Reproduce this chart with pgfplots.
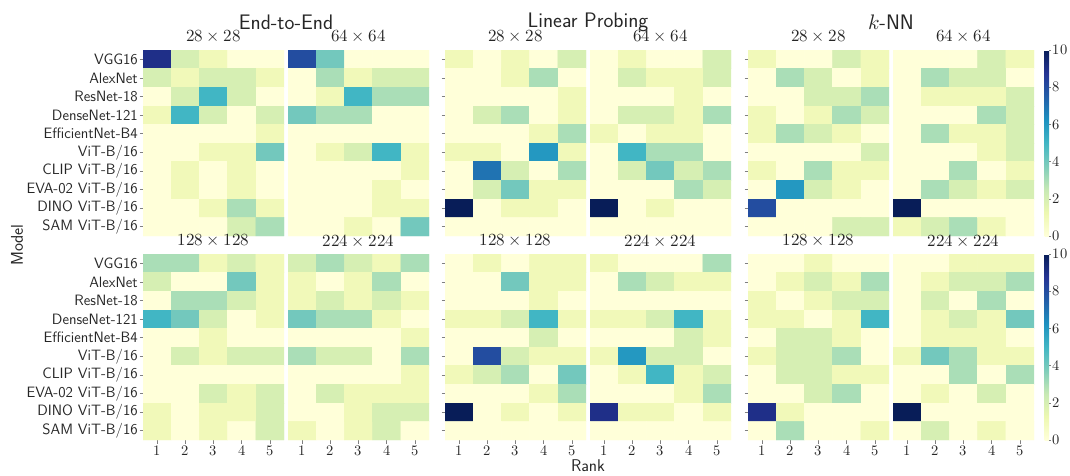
\documentclass[border=0pt]{standalone}
\usepackage{fontspec}
\usepackage{unicode-math}
\setmathfont{Latin Modern Math}
\usepackage{pgfplots}
\pgfplotsset{compat=1.18}
\definecolor{txt}{gray}{0.15}
\pgfplotsset{
 hm/.style={
  anchor=north west, scale only axis, width=141pt, height=186pt,
  xmin=0.5, xmax=5.5, ymin=-0.5, ymax=9.5, y dir=reverse,
  axis line style={draw=none},
  colormap={ylgnbu}{rgb255=(255,255,217) rgb255=(237,248,177) rgb255=(199,233,180) rgb255=(127,205,187) rgb255=(65,182,196) rgb255=(29,145,192) rgb255=(34,94,168) rgb255=(37,52,148) rgb255=(8,29,88)},
  point meta min=0, point meta max=10,
  xtick=\empty, ytick=\empty,
  tick style={draw=black!50, line width=0.6pt},
  tick align=outside, major tick length=3.5pt,
  title style={at={(0.5,1)}, anchor=south, yshift=0pt, inner sep=1.5pt, font=\fontsize{17}{19}\selectfont, text=txt},
  ticklabel style={font=\fontsize{14.5}{16}\selectfont, text=txt},
 },
 ylab/.style={ytick={0,...,9}, ytick pos=left,
  yticklabels={VGG16,AlexNet,ResNet-18,DenseNet-121,EfficientNet-B4,ViT-B/16,CLIP ViT-B/16,EVA-02 ViT-B/16,DINO ViT-B/16,SAM ViT-B/16},
  yticklabel style={font=\sffamily\fontsize{15}{17}\selectfont, text=txt, inner sep=1.5pt}},
 ytk/.style={ytick={0,...,9}, ytick pos=left, yticklabel={\phantom{0}}},
 xlab/.style={xtick={1,...,5}, xtick pos=bottom, xticklabel style={inner sep=2pt}},
 cbar/.style={colorbar, colorbar style={at={(parent axis.north east)}, anchor=north west, xshift=2pt,
  width=4.5pt, height=186pt, scale only axis, ymin=0, ymax=10, ytick={0,2,...,10}, ytick pos=right, yticklabel pos=right,
  axis line style={draw=none}, tick style={draw=black!50, line width=0.6pt}, tick align=outside, major tick length=2pt,
  yticklabel style={font=\fontsize{14.5}{16}\selectfont, text=txt, inner sep=1.5pt}}},
 hp/.style={matrix plot*, mesh/cols=5, point meta=explicit},
}
\begin{document}
\begin{tikzpicture}
\path[use as bounding box] (0,0) rectangle (1070pt,-476pt);
% ===== Top row =====
\begin{axis}[hm, ylab, at={(143pt,-50pt)}, title={$28\times 28$}]
\addplot[hp] coordinates {
(1,0)[9] (2,0)[2] (3,0)[1] (4,0)[0] (5,0)[0]
(1,1)[2] (2,1)[1] (3,1)[2] (4,1)[2] (5,1)[1]
(1,2)[0] (2,2)[2] (3,2)[5] (4,2)[2] (5,2)[0]
(1,3)[1] (2,3)[5] (3,3)[2] (4,3)[0] (5,3)[2]
(1,4)[0] (2,4)[0] (3,4)[0] (4,4)[0] (5,4)[1]
(1,5)[0] (2,5)[0] (3,5)[1] (4,5)[1] (5,5)[4]
(1,6)[0] (2,6)[1] (3,6)[0] (4,6)[1] (5,6)[0]
(1,7)[0] (2,7)[1] (3,7)[0] (4,7)[1] (5,7)[0]
(1,8)[0] (2,8)[0] (3,8)[1] (4,8)[3] (5,8)[1]
(1,9)[0] (2,9)[0] (3,9)[0] (4,9)[2] (5,9)[3]
};
\end{axis}
\begin{axis}[hm, at={(288pt,-50pt)}, title={$64\times 64$}]
\addplot[hp] coordinates {
(1,0)[8] (2,0)[4] (3,0)[0] (4,0)[0] (5,0)[0]
(1,1)[0] (2,1)[3] (3,1)[1] (4,1)[2] (5,1)[2]
(1,2)[0] (2,2)[1] (3,2)[5] (4,2)[3] (5,2)[3]
(1,3)[4] (2,3)[3] (3,3)[3] (4,3)[0] (5,3)[0]
(1,4)[0] (2,4)[0] (3,4)[0] (4,4)[0] (5,4)[0]
(1,5)[0] (2,5)[1] (3,5)[2] (4,5)[5] (5,5)[1]
(1,6)[0] (2,6)[0] (3,6)[0] (4,6)[0] (5,6)[1]
(1,7)[0] (2,7)[0] (3,7)[0] (4,7)[1] (5,7)[0]
(1,8)[0] (2,8)[0] (3,8)[0] (4,8)[1] (5,8)[1]
(1,9)[0] (2,9)[0] (3,9)[1] (4,9)[0] (5,9)[4]
};
\end{axis}
\begin{axis}[hm, ytk, at={(445pt,-50pt)}, title={$28\times 28$}]
\addplot[hp] coordinates {
(1,0)[1] (2,0)[0] (3,0)[1] (4,0)[0] (5,0)[2]
(1,1)[0] (2,1)[0] (3,1)[1] (4,1)[3] (5,1)[0]
(1,2)[0] (2,2)[0] (3,2)[0] (4,2)[0] (5,2)[1]
(1,3)[0] (2,3)[2] (3,3)[3] (4,3)[0] (5,3)[1]
(1,4)[0] (2,4)[0] (3,4)[0] (4,4)[1] (5,4)[3]
(1,5)[1] (2,5)[1] (3,5)[0] (4,5)[6] (5,5)[1]
(1,6)[0] (2,6)[7] (3,6)[2] (4,6)[0] (5,6)[3]
(1,7)[0] (2,7)[2] (3,7)[4] (4,7)[1] (5,7)[1]
(1,8)[10] (2,8)[0] (3,8)[1] (4,8)[1] (5,8)[0]
(1,9)[0] (2,9)[0] (3,9)[0] (4,9)[0] (5,9)[0]
};
\end{axis}
\begin{axis}[hm, at={(590pt,-50pt)}, title={$64\times 64$}]
\addplot[hp] coordinates {
(1,0)[0] (2,0)[1] (3,0)[0] (4,0)[0] (5,0)[2]
(1,1)[0] (2,1)[2] (3,1)[1] (4,1)[1] (5,1)[2]
(1,2)[0] (2,2)[0] (3,2)[0] (4,2)[1] (5,2)[0]
(1,3)[0] (2,3)[2] (3,3)[2] (4,3)[1] (5,3)[3]
(1,4)[1] (2,4)[0] (3,4)[1] (4,4)[1] (5,4)[0]
(1,5)[0] (2,5)[5] (3,5)[3] (4,5)[3] (5,5)[0]
(1,6)[0] (2,6)[2] (3,6)[4] (4,6)[2] (5,6)[3]
(1,7)[0] (2,7)[0] (3,7)[0] (4,7)[3] (5,7)[2]
(1,8)[11] (2,8)[0] (3,8)[1] (4,8)[0] (5,8)[0]
(1,9)[0] (2,9)[0] (3,9)[0] (4,9)[0] (5,9)[0]
};
\end{axis}
\begin{axis}[hm, ytk, at={(748pt,-50pt)}, title={$28\times 28$}]
\addplot[hp] coordinates {
(1,0)[1] (2,0)[0] (3,0)[0] (4,0)[2] (5,0)[1]
(1,1)[0] (2,1)[3] (3,1)[2] (4,1)[0] (5,1)[1]
(1,2)[0] (2,2)[0] (3,2)[2] (4,2)[2] (5,2)[3]
(1,3)[1] (2,3)[0] (3,3)[1] (4,3)[3] (5,3)[2]
(1,4)[1] (2,4)[3] (3,4)[2] (4,4)[1] (5,4)[0]
(1,5)[0] (2,5)[0] (3,5)[0] (4,5)[0] (5,5)[2]
(1,6)[1] (2,6)[0] (3,6)[3] (4,6)[1] (5,6)[1]
(1,7)[0] (2,7)[6] (3,7)[2] (4,7)[1] (5,7)[0]
(1,8)[8] (2,8)[0] (3,8)[0] (4,8)[0] (5,8)[0]
(1,9)[0] (2,9)[0] (3,9)[0] (4,9)[2] (5,9)[2]
};
\end{axis}
\begin{axis}[hm, cbar, at={(893pt,-50pt)}, title={$64\times 64$}]
\addplot[hp] coordinates {
(1,0)[0] (2,0)[0] (3,0)[0] (4,0)[2] (5,0)[1]
(1,1)[0] (2,1)[3] (3,1)[2] (4,1)[2] (5,1)[0]
(1,2)[0] (2,2)[1] (3,2)[1] (4,2)[1] (5,2)[2]
(1,3)[0] (2,3)[0] (3,3)[0] (4,3)[3] (5,3)[2]
(1,4)[0] (2,4)[3] (3,4)[1] (4,4)[1] (5,4)[2]
(1,5)[0] (2,5)[0] (3,5)[0] (4,5)[1] (5,5)[2]
(1,6)[0] (2,6)[0] (3,6)[3] (4,6)[0] (5,6)[1]
(1,7)[0] (2,7)[3] (3,7)[2] (4,7)[1] (5,7)[2]
(1,8)[11] (2,8)[0] (3,8)[0] (4,8)[0] (5,8)[0]
(1,9)[1] (2,9)[2] (3,9)[3] (4,9)[1] (5,9)[0]
};
\end{axis}
% ===== Bottom row =====
\begin{axis}[hm, ylab, xlab, at={(143pt,-254pt)}, title={$128\times 128$}]
\addplot[hp] coordinates {
(1,0)[3] (2,0)[3] (3,0)[1] (4,0)[2] (5,0)[1]
(1,1)[2] (2,1)[0] (3,1)[0] (4,1)[4] (5,1)[1]
(1,2)[0] (2,2)[3] (3,2)[3] (4,2)[2] (5,2)[1]
(1,3)[5] (2,3)[4] (3,3)[2] (4,3)[0] (5,3)[1]
(1,4)[0] (2,4)[0] (3,4)[1] (4,4)[0] (5,4)[0]
(1,5)[0] (2,5)[2] (3,5)[1] (4,5)[2] (5,5)[2]
(1,6)[0] (2,6)[0] (3,6)[0] (4,6)[0] (5,6)[0]
(1,7)[0] (2,7)[0] (3,7)[2] (4,7)[1] (5,7)[2]
(1,8)[1] (2,8)[0] (3,8)[1] (4,8)[1] (5,8)[2]
(1,9)[1] (2,9)[0] (3,9)[1] (4,9)[0] (5,9)[2]
};
\end{axis}
\begin{axis}[hm, xlab, at={(288pt,-254pt)}, title={$224\times 224$}]
\addplot[hp] coordinates {
(1,0)[2] (2,0)[3] (3,0)[2] (4,0)[1] (5,0)[3]
(1,1)[1] (2,1)[0] (3,1)[1] (4,1)[3] (5,1)[0]
(1,2)[1] (2,2)[2] (3,2)[1] (4,2)[2] (5,2)[1]
(1,3)[4] (2,3)[3] (3,3)[3] (4,3)[1] (5,3)[0]
(1,4)[0] (2,4)[0] (3,4)[0] (4,4)[0] (5,4)[1]
(1,5)[3] (2,5)[2] (3,5)[2] (4,5)[0] (5,5)[3]
(1,6)[0] (2,6)[0] (3,6)[0] (4,6)[0] (5,6)[1]
(1,7)[0] (2,7)[2] (3,7)[1] (4,7)[1] (5,7)[1]
(1,8)[0] (2,8)[0] (3,8)[1] (4,8)[2] (5,8)[2]
(1,9)[1] (2,9)[0] (3,9)[1] (4,9)[2] (5,9)[0]
};
\end{axis}
\begin{axis}[hm, ytk, xlab, at={(445pt,-254pt)}, title={$128\times 128$}]
\addplot[hp] coordinates {
(1,0)[0] (2,0)[1] (3,0)[0] (4,0)[1] (5,0)[1]
(1,1)[0] (2,1)[0] (3,1)[4] (4,1)[1] (5,1)[1]
(1,2)[0] (2,2)[0] (3,2)[0] (4,2)[1] (5,2)[0]
(1,3)[1] (2,3)[1] (3,3)[2] (4,3)[5] (5,3)[1]
(1,4)[0] (2,4)[0] (3,4)[0] (4,4)[2] (5,4)[0]
(1,5)[0] (2,5)[8] (3,5)[2] (4,5)[1] (5,5)[1]
(1,6)[1] (2,6)[2] (3,6)[3] (4,6)[0] (5,6)[4]
(1,7)[0] (2,7)[0] (3,7)[0] (4,7)[1] (5,7)[3]
(1,8)[10] (2,8)[0] (3,8)[1] (4,8)[0] (5,8)[1]
(1,9)[0] (2,9)[0] (3,9)[0] (4,9)[0] (5,9)[0]
};
\end{axis}
\begin{axis}[hm, xlab, at={(590pt,-254pt)}, title={$224\times 224$}]
\addplot[hp] coordinates {
(1,0)[1] (2,0)[0] (3,0)[0] (4,0)[0] (5,0)[3]
(1,1)[0] (2,1)[3] (3,1)[2] (4,1)[1] (5,1)[1]
(1,2)[0] (2,2)[0] (3,2)[0] (4,2)[0] (5,2)[0]
(1,3)[1] (2,3)[1] (3,3)[2] (4,3)[5] (5,3)[1]
(1,4)[0] (2,4)[0] (3,4)[0] (4,4)[2] (5,4)[1]
(1,5)[1] (2,5)[6] (3,5)[2] (4,5)[2] (5,5)[0]
(1,6)[0] (2,6)[1] (3,6)[5] (4,6)[1] (5,6)[2]
(1,7)[0] (2,7)[0] (3,7)[0] (4,7)[1] (5,7)[3]
(1,8)[9] (2,8)[1] (3,8)[1] (4,8)[0] (5,8)[1]
(1,9)[0] (2,9)[0] (3,9)[0] (4,9)[0] (5,9)[0]
};
\end{axis}
\begin{axis}[hm, ytk, xlab, at={(748pt,-254pt)}, title={$128\times 128$}]
\addplot[hp] coordinates {
(1,0)[0] (2,0)[0] (3,0)[1] (4,0)[0] (5,0)[0]
(1,1)[0] (2,1)[1] (3,1)[2] (4,1)[1] (5,1)[3]
(1,2)[1] (2,2)[0] (3,2)[1] (4,2)[2] (5,2)[2]
(1,3)[1] (2,3)[1] (3,3)[0] (4,3)[1] (5,3)[5]
(1,4)[0] (2,4)[2] (3,4)[2] (4,4)[1] (5,4)[0]
(1,5)[1] (2,5)[2] (3,5)[2] (4,5)[3] (5,5)[0]
(1,6)[0] (2,6)[2] (3,6)[2] (4,6)[1] (5,6)[1]
(1,7)[0] (2,7)[0] (3,7)[2] (4,7)[3] (5,7)[0]
(1,8)[9] (2,8)[1] (3,8)[0] (4,8)[0] (5,8)[0]
(1,9)[0] (2,9)[3] (3,9)[0] (4,9)[0] (5,9)[1]
};
\end{axis}
\begin{axis}[hm, cbar, xlab, at={(893pt,-254pt)}, title={$224\times 224$}]
\addplot[hp] coordinates {
(1,0)[0] (2,0)[0] (3,0)[1] (4,0)[1] (5,0)[1]
(1,1)[0] (2,1)[1] (3,1)[2] (4,1)[2] (5,1)[3]
(1,2)[0] (2,2)[2] (3,2)[0] (4,2)[3] (5,2)[0]
(1,3)[0] (2,3)[1] (3,3)[2] (4,3)[1] (5,3)[4]
(1,4)[0] (2,4)[1] (3,4)[1] (4,4)[1] (5,4)[0]
(1,5)[1] (2,5)[4] (3,5)[3] (4,5)[1] (5,5)[1]
(1,6)[0] (2,6)[0] (3,6)[3] (4,6)[0] (5,6)[3]
(1,7)[0] (2,7)[1] (3,7)[0] (4,7)[2] (5,7)[0]
(1,8)[11] (2,8)[0] (3,8)[0] (4,8)[0] (5,8)[0]
(1,9)[0] (2,9)[2] (3,9)[0] (4,9)[1] (5,9)[0]
};
\end{axis}
% ===== Texts =====
\node[font=\sffamily\fontsize{21}{24}\selectfont, text=txt] at (286pt,-22pt) {End-to-End};
\node[font=\sffamily\fontsize{21}{24}\selectfont, text=txt] at (588pt,-22pt) {Linear Probing};
\node[font=\sffamily\fontsize{21}{24}\selectfont, text=txt] at (891pt,-22pt) {$k$-NN};
\node[font=\sffamily\fontsize{17}{19}\selectfont, text=txt] at (588pt,-466pt) {Rank};
\node[font=\sffamily\fontsize{17}{19}\selectfont, text=txt, rotate=90] at (17pt,-245pt) {Model};
\end{tikzpicture}
\end{document}
